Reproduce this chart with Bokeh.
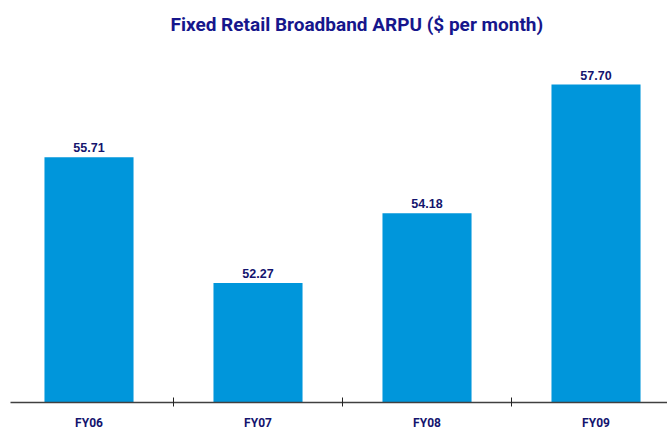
from bokeh.plotting import figure
from bokeh.models import Range1d, FixedTicker, ColumnDataSource, Title
from bokeh.embed import file_html
from bokeh.resources import INLINE
from bokeh.core.properties import value

categories = ["FY06", "FY07", "FY08", "FY09"]
arpu = [55.71, 52.27, 54.18, 57.70]
title_text = "Fixed Retail Broadband ARPU ($ per month)"

xs = list(range(len(categories)))
labels = [f"{v:.2f}" for v in arpu]
y0 = 49.0

src = ColumnDataSource(dict(x=xs, y=arpu, lab=labels))

p = figure(width=667, height=432, output_backend="svg", toolbar_location=None,
           x_range=Range1d(-0.4645, 3.423), y_range=Range1d(y0, 58.905),
           min_border_left=10, min_border_right=0, min_border_top=40, min_border_bottom=0)
p.title = Title(text=title_text, align="left", text_font="Roboto",
                text_font_size="19px", text_font_style="bold", text_color="#16168C",
                offset=160, standoff=10)

p.vbar(x="x", top="y", bottom=y0, width=0.527, source=src, fill_color="#0096DB", line_color=None)
p.text(x="x", y="y", text="lab", source=src, text_align="center", text_baseline="bottom",
       y_offset=-5, text_font=value("Liberation Sans"), text_font_size="12.5px",
       text_font_style="bold", text_color="#14146E")

p.yaxis.visible = False
p.grid.visible = False
p.outline_line_color = None
p.background_fill_color = "white"

ax = p.xaxis[0]
ax.ticker = FixedTicker(ticks=xs, minor_ticks=[0.5, 1.5, 2.5])
ax.major_label_overrides = {i: c for i, c in zip(xs, categories)}
ax.major_tick_in = 0
ax.major_tick_out = 0
ax.minor_tick_in = 5
ax.minor_tick_out = 4
ax.minor_tick_line_color = "#222222"
ax.axis_line_color = "#404040"
ax.axis_line_width = 1.5
ax.major_label_standoff = 9
ax.major_label_text_font = "Roboto"
ax.major_label_text_font_size = "12px"
ax.major_label_text_font_style = "bold"
ax.major_label_text_color = "#14146E"

open("out.html", "w").write(file_html(p, INLINE))
